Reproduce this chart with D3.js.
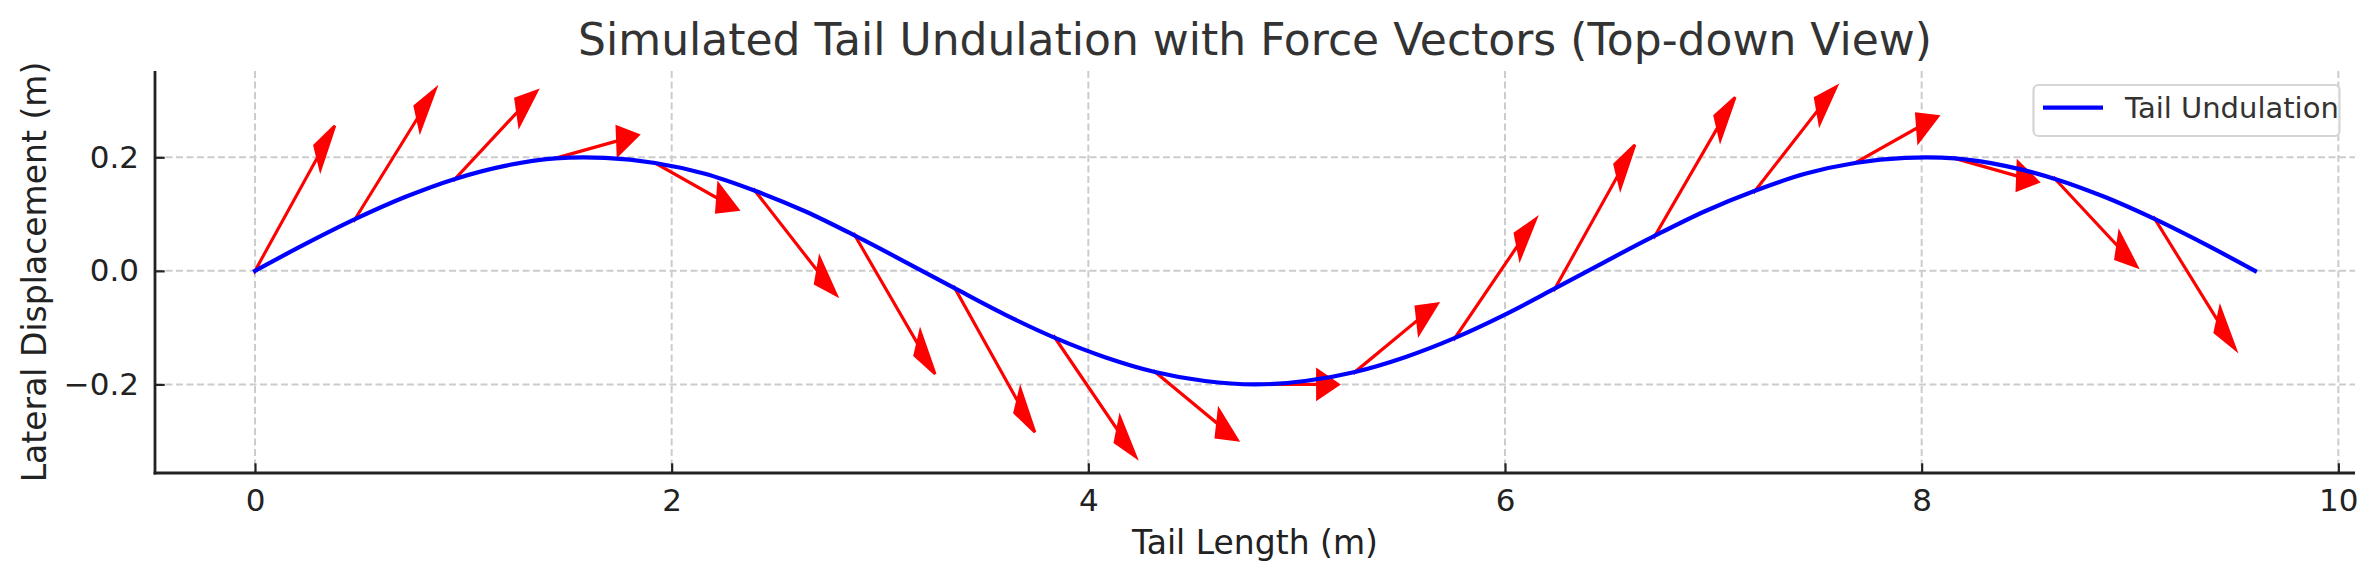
<!DOCTYPE html>
<html>
<head>
<meta charset="utf-8">
<script src="https://cdn.jsdelivr.net/npm/d3@7"></script>
<style>
  body { margin: 0; background: #fff; }
  svg { display: block; font-family: "DejaVu Sans", sans-serif; }
</style>
</head>
<body>
<div class="chart"></div>
<script>
const WIDTH = 2377;
const HEIGHT = 580;

// Tail centre line (m)
const tailX = [0, 0.24, 0.48, 0.72, 0.96, 1.2, 1.44, 1.68, 1.92, 2.16,
  2.4, 2.64, 2.88, 3.12, 3.36, 3.6, 3.84, 4.08, 4.32, 4.56,
  4.8, 5.04, 5.28, 5.52, 5.76, 6.0, 6.24, 6.48, 6.72, 6.96,
  7.2, 7.44, 7.68, 7.92, 8.16, 8.4, 8.64, 8.88, 9.12, 9.36, 9.6];
const tailY = [0, 0.047, 0.091, 0.130, 0.162, 0.185, 0.198, 0.199, 0.190, 0.171,
  0.141, 0.105, 0.062, 0.016, -0.031, -0.077, -0.118, -0.152, -0.178, -0.194,
  -0.200, -0.194, -0.178, -0.152, -0.118, -0.077, -0.031, 0.016, 0.062, 0.105,
  0.141, 0.171, 0.190, 0.199, 0.198, 0.185, 0.162, 0.130, 0.091, 0.047, 0];

// Force vectors: tail points and (dx, dy) in data units
const forceX = [0, 0.48, 0.96, 1.44, 1.92, 2.4, 2.88, 3.36, 3.84, 4.32,
  4.8, 5.28, 5.76, 6.24, 6.72, 7.2, 7.68, 8.16, 8.64, 9.12];
const forceY = [0, 0.091, 0.162, 0.198, 0.190, 0.141, 0.062, -0.031, -0.118, -0.178,
  -0.200, -0.178, -0.118, -0.031, 0.062, 0.141, 0.190, 0.198, 0.162, 0.091];
const forceDx = [0.3, 0.3, 0.3, 0.3, 0.3, 0.3, 0.3, 0.3, 0.3, 0.3,
  0.3, 0.3, 0.3, 0.3, 0.3, 0.3, 0.3, 0.3, 0.3, 0.3];
const forceDy = [0.200, 0.178, 0.118, 0.031, -0.062, -0.141, -0.190, -0.198, -0.162, -0.091,
  0.000, 0.091, 0.162, 0.198, 0.190, 0.141, 0.062, -0.031, -0.118, -0.178];

const xTicks = [0, 2, 4, 6, 8, 10];
const yTicks = [-0.2, 0.0, 0.2];

const HEAD_WIDTH = 0.05;
const HEAD_LENGTH = 0.1;

// plot area
const margin = { left: 155, right: 2355, top: 71, bottom: 473 };

const svg = d3.select(".chart")
  .append("svg")
  .attr("width", WIDTH)
  .attr("height", HEIGHT);

const xScale = d3.scaleLinear().domain([-0.48, 10.08]).range([margin.left, margin.right]);
const yScale = d3.scaleLinear().domain([-0.356, 0.352]).range([margin.bottom, margin.top]);

// grid
const grid = svg.append("g").attr("class", "grid")
  .attr("stroke", "#cccccc").attr("stroke-width", 2).attr("stroke-dasharray", "7,3.5");
grid.selectAll(".gx").data(xTicks).join("line")
  .attr("x1", d => xScale(d)).attr("x2", d => xScale(d))
  .attr("y1", margin.top).attr("y2", margin.bottom);
grid.selectAll(".gy").data(yTicks).join("line")
  .attr("y1", d => yScale(d)).attr("y2", d => yScale(d))
  .attr("x1", margin.left).attr("x2", margin.right);

// arrow polygon in data space (like a FancyArrow), then mapped by the scales
function arrowPoints(i) {
  const x0 = forceX[i], y0 = forceY[i], dx = forceDx[i], dy = forceDy[i];
  const len = Math.hypot(dx, dy);
  const ux = dx / len, uy = dy / len;
  const nx = -uy, ny = ux;
  const w = 0.001;
  const pts = [
    [0, w / 2], [len, w / 2], [len, HEAD_WIDTH / 2], [len + HEAD_LENGTH, 0],
    [len, -HEAD_WIDTH / 2], [len, -w / 2], [0, -w / 2]
  ];
  return pts.map(([a, b]) => [
    xScale(x0 + ux * a + nx * b),
    yScale(y0 + uy * a + ny * b)
  ].join(",")).join(" ");
}

svg.append("g").attr("class", "forces")
  .selectAll("polygon")
  .data(d3.range(forceX.length))
  .join("polygon")
  .attr("points", arrowPoints)
  .attr("fill", "#ff0000")
  .attr("stroke", "#ff0000")
  .attr("stroke-width", 2.8)
  .attr("stroke-linejoin", "miter");

// tail line
const line = d3.line()
  .x(i => xScale(tailX[i]))
  .y(i => yScale(tailY[i]))
  .curve(d3.curveCatmullRom);

svg.append("path")
  .attr("d", line(d3.range(tailX.length)))
  .attr("fill", "none")
  .attr("stroke", "#0000ff")
  .attr("stroke-width", 4.2)
  .attr("stroke-linecap", "square");

// axes
const xAxis = d3.axisBottom(xScale).tickValues(xTicks).tickSize(-9.7).tickPadding(16)
  .tickFormat(d3.format("d"));
const yAxis = d3.axisLeft(yScale).tickValues(yTicks).tickSize(-9.7).tickPadding(16)
  .tickFormat(d => d3.format(".1f")(d).replace("-", "\u2212"));

const gx = svg.append("g").attr("transform", `translate(0,${margin.bottom})`).call(xAxis);
const gy = svg.append("g").attr("transform", `translate(${margin.left},0)`).call(yAxis);

[gx, gy].forEach(g => {
  g.select(".domain").remove();
  g.selectAll(".tick line").attr("stroke", "#222").attr("stroke-width", 2.2);
  g.selectAll(".tick text")
    .attr("fill", "#222")
    .style("font-family", "DejaVu Sans")
    .style("font-size", "31px");
});
gx.selectAll(".tick text").attr("dy", "0.71em");

// spines (left and bottom only)
svg.append("line")
  .attr("x1", margin.left).attr("x2", margin.left)
  .attr("y1", margin.top).attr("y2", margin.bottom + 1.4)
  .attr("stroke", "#222").attr("stroke-width", 2.8);
svg.append("line")
  .attr("x1", margin.left - 1.4).attr("x2", margin.right)
  .attr("y1", margin.bottom).attr("y2", margin.bottom)
  .attr("stroke", "#222").attr("stroke-width", 2.8);

// title and labels
svg.append("text")
  .attr("x", (margin.left + margin.right) / 2)
  .attr("y", 55)
  .attr("text-anchor", "middle")
  .attr("fill", "#333")
  .style("font-size", "44px")
  .text("Simulated Tail Undulation with Force Vectors (Top-down View)");

svg.append("text")
  .attr("x", (margin.left + margin.right) / 2)
  .attr("y", 554)
  .attr("text-anchor", "middle")
  .attr("fill", "#222")
  .style("font-size", "33px")
  .text("Tail Length (m)");

svg.append("text")
  .attr("transform", `translate(46,${(margin.top + margin.bottom) / 2}) rotate(-90)`)
  .attr("text-anchor", "middle")
  .attr("fill", "#222")
  .style("font-size", "33px")
  .text("Lateral Displacement (m)");

// legend
const legend = svg.append("g").attr("class", "legend");
legend.append("rect")
  .attr("x", 2033.5).attr("y", 85)
  .attr("width", 306).attr("height", 51)
  .attr("rx", 5)
  .attr("fill", "#fff")
  .attr("fill-opacity", 0.8)
  .attr("stroke", "#d5d5d5")
  .attr("stroke-width", 2.2);
legend.append("line")
  .attr("x1", 2043).attr("x2", 2103)
  .attr("y1", 107.7).attr("y2", 107.7)
  .attr("stroke", "#0000ff")
  .attr("stroke-width", 4.2);
legend.append("text")
  .attr("x", 2125).attr("y", 118.3)
  .attr("fill", "#333")
  .style("font-size", "29px")
  .text("Tail Undulation");
</script>
</body>
</html>
